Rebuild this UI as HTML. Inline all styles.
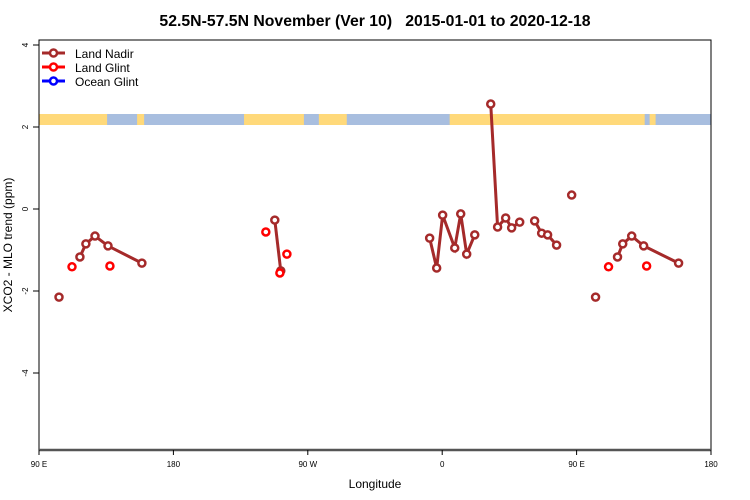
<!DOCTYPE html>
<html><head><meta charset="utf-8"><style>
body{margin:0;background:#fff;}
svg{display:block;font-family:"Liberation Sans",sans-serif;}
</style></head><body>
<svg id="chart" width="750" height="500">
<text x="375" y="26" text-anchor="middle" font-size="15.8" font-weight="bold" xml:space="preserve" style="white-space:pre">52.5N-57.5N November (Ver 10)   2015-01-01 to 2020-12-18</text>
<g id="strip"></g>
<rect x="39" y="40" width="672" height="410" fill="none" stroke="#000" stroke-width="1"/>
<line x1="39" y1="450" x2="711" y2="450" stroke="#555" stroke-width="2.5"/>
<g id="xaxis"></g>
<g id="yaxis"></g>
<text x="375" y="488" text-anchor="middle" font-size="12">Longitude</text>
<text transform="translate(12,245) rotate(-90)" text-anchor="middle" font-size="12">XCO2 - MLO trend (ppm)</text>
<g id="series"></g>
<g>
 <g><line x1="42" y1="53" x2="65" y2="53" stroke="#a52a2a" stroke-width="3"/><circle cx="53.5" cy="53" r="3.5" fill="#fff" stroke="#a52a2a" stroke-width="2.5"/><text x="75" y="58" font-size="12">Land Nadir</text></g>
 <g><line x1="42" y1="67" x2="65" y2="67" stroke="#ff0000" stroke-width="3"/><circle cx="53.5" cy="67" r="3.5" fill="#fff" stroke="#ff0000" stroke-width="2.5"/><text x="75" y="72" font-size="12">Land Glint</text></g>
 <g><line x1="42" y1="81" x2="65" y2="81" stroke="#0000ff" stroke-width="3"/><circle cx="53.5" cy="81" r="3.5" fill="#fff" stroke="#0000ff" stroke-width="2.5"/><text x="75" y="86" font-size="12">Ocean Glint</text></g>
</g>
</svg>
<script>
const xTickVals=[90,180,270,360,450,540];
const xTickLabels=["90 E","180","90 W","0","90 E","180"];
const yTickVals=[4,2,0,-2,-4];
const yTickLabels=["4","2","0","-2","-4"];
const nadirLon=[103.4,null,117.4,121.4,127.5,136.2,158.9,null,247.9,251.9,null,351.6,356.3,360.3,368.4,372.4,376.4,381.8,null,392.5,397.1,402.5,406.5,411.9,null,421.9,426.6,430.6,436.6,null,446.7,null,462.7,null,477.4,480.9,486.9,494.9,518.3];
const nadirVal=[-2.15,null,-1.17,-0.85,-0.66,-0.90,-1.32,null,-0.27,-1.51,null,-0.71,-1.44,-0.15,-0.95,-0.12,-1.10,-0.63,null,2.56,-0.44,-0.22,-0.46,-0.32,null,-0.29,-0.59,-0.63,-0.88,null,0.34,null,-2.15,null,-1.17,-0.85,-0.66,-0.90,-1.32];
const glintLon=[112.1,null,137.5,null,241.9,null,251.3,null,256.0,null,471.4,null,496.9];
const glintVal=[-1.41,null,-1.39,null,-0.56,null,-1.56,null,-1.10,null,-1.41,null,-1.39];
// land (1) / ocean (0) strip segments along longitude
const stripStart=[90,135.6,155.7,160.4,227.3,267.4,277.4,296.1,351.6,365,380.2,495.6,498.9,502.9];
const stripLand=[1,0,1,0,1,0,1,0,0,1,1,0,1,0];
const ns="http://www.w3.org/2000/svg";
const X0=39,X1=711,LON0=90,LON1=540;
const sx=v=>X0+(v-LON0)*(X1-X0)/(LON1-LON0);
const sy=v=>209-v*41;
function mk(tag,attrs,parent){const e=document.createElementNS(ns,tag);for(const k in attrs)e.setAttribute(k,attrs[k]);parent.appendChild(e);return e;}
const strip=document.getElementById('strip');
for(let i=0;i<stripStart.length;i++){
 const a=stripStart[i],b=i+1<stripStart.length?stripStart[i+1]:LON1;
 const r=mk('rect',{x:sx(a),y:114,width:sx(b)-sx(a)+0.5,height:11,fill:stripLand[i]?'#ffd97a':'#a8bedf'},strip);
 
 
}
const xa=document.getElementById('xaxis');
xTickVals.forEach((v,i)=>{
 const l=mk('line',{x1:sx(v),x2:sx(v),y1:450,y2:455,stroke:'#000'},xa);
 
 
 const t=mk('text',{x:sx(v),y:467,'text-anchor':'middle','font-size':'8'},xa);t.textContent=xTickLabels[i];
 
 
});
const ya=document.getElementById('yaxis');
yTickVals.forEach((v,i)=>{
 const l=mk('line',{x1:33,x2:39,y1:sy(v),y2:sy(v),stroke:'#000'},ya);
 
 
 const t=mk('text',{transform:`translate(28,${sy(v)}) rotate(-90)`,'text-anchor':'middle','font-size':'8'},ya);t.textContent=yTickLabels[i];
 
 
});
const sg=document.getElementById('series');
function drawSeries(lons,vals,color,name){
 let seg=[];
 const flush=()=>{if(seg.length>1){const p=mk('polyline',{points:seg.map(q=>q.join(',')).join(' '),fill:'none',stroke:color,'stroke-width':3},sg);
  
  }seg=[];};
 for(let i=0;i<lons.length;i++){if(lons[i]==null){flush();continue;}seg.push([sx(lons[i]),sy(vals[i])]);}
 flush();
 for(let i=0;i<lons.length;i++){if(lons[i]==null)continue;
  const c=mk('circle',{cx:sx(lons[i]),cy:sy(vals[i]),r:3.5,fill:'#fff',stroke:color,'stroke-width':2.5},sg);
  
  }
}
drawSeries(nadirLon,nadirVal,'#a52a2a','land-nadir');
drawSeries(glintLon,glintVal,'#ff0000','land-glint');
</script>
</body></html>
